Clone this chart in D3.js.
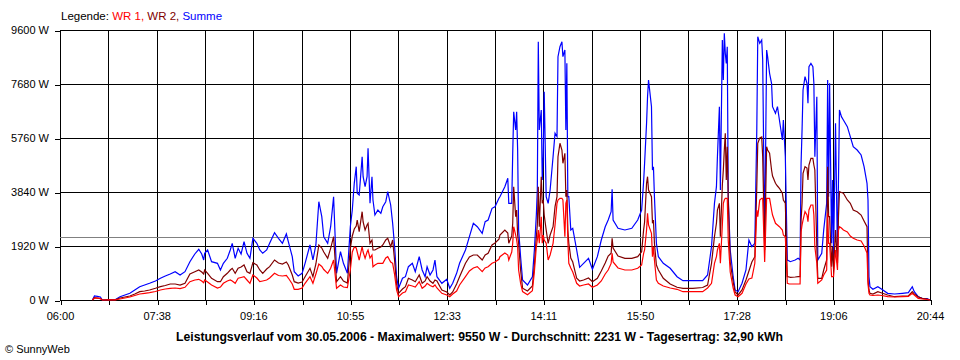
<!DOCTYPE html>
<html>
<head>
<meta charset="utf-8">
<script src="https://cdn.jsdelivr.net/npm/d3@7"></script>
<style>
  html, body { margin: 0; padding: 0; background: #fff; }
  svg { display: block; }
  text { font-family: "Liberation Sans", Arial, sans-serif; font-size: 11px; fill: #000; }
</style>
</head>
<body>
<div id="chart"></div>
<script>
// ---- Data (time in minutes since midnight, power in W) ----
const times = [393,395,398,401,403,409,416,421,426,431,436,441,446,451,457,462,467,472,477,482,487,492,497,501,504,506,507,510,514,520,523,526,530,533,535,538,541,544,547,550,553,556,560,563,566,570,573,578,582,586,590,592,596,598,602,606,609,614,617,620,623,626,628,632,635,638,641,645,648,652,655,657,659,661,662,664,667,668,670,672,673,675,677,678,680,683,686,688,691,693,696,698,700,702,704,708,711,714,718,721,725,728,731,733,736,739,741,743,748,753,756,759,763,766,772,776,780,784,789,792,795,799,802,806,807,812,815,816,819,820,821,823,824,825,826,828,830,835,840,842,844,845,846,847,849,850,851,852,854,856,858,861,863,865,866,868,870,871,873,874,875,876,877,879,881,885,888,892,897,901,906,910,914,917,920,921,922,927,934,941,947,951,953,954,956,957,958,961,962,963,964,966,968,973,980,987,993,1003,1013,1018,1022,1025,1027,1028,1030,1031,1033,1034,1035,1036,1037,1038,1039,1041,1044,1046,1049,1053,1057,1060,1063,1066,1068,1069,1071,1073,1074,1076,1078,1079,1081,1083,1084,1087,1089,1091,1094,1095,1097,1099,1101,1102,1107,1110,1112,1113,1114,1115,1117,1119,1120,1121,1123,1125,1126,1127,1129,1130,1134,1136,1139,1140,1141,1142,1144,1145,1146,1148,1150,1151,1152,1154,1156,1160,1163,1166,1170,1174,1177,1180,1181,1182,1183,1186,1191,1195,1201,1208,1216,1222,1226,1228,1232,1236,1241,1244];

const summe = [0,142,130,107,0,10,10,117,178,238,356,473,533,594,676,772,853,924,1006,889,1006,1362,1636,1803,1636,1422,1661,1778,1362,1305,1067,1305,1483,1778,2016,1483,1838,1636,2073,1661,1483,2194,2016,1778,1661,1778,2016,2393,2194,2016,2347,2073,1540,1006,853,949,1305,1956,1422,1956,3495,2962,2251,2016,2606,3673,949,1717,1305,949,2606,3200,4149,4740,3794,3733,5095,4384,4029,4384,5394,3438,4384,3556,3022,3200,3083,3317,3495,3851,3378,2727,1895,828,416,772,828,1184,1305,1006,1540,1067,828,1184,889,1067,1422,828,594,736,416,594,949,1305,1778,2251,2727,2606,2372,2784,2844,3260,3317,3616,3673,4029,4327,3438,3438,5216,6695,6044,6695,5333,2489,1540,711,533,828,1778,3022,3911,9185,6044,6756,4267,5095,7407,3673,3438,3911,5095,5927,5807,8651,9007,9185,8651,8889,6044,8415,3673,3673,2489,2549,1778,1162,1305,1483,1092,1540,2133,2606,2844,3140,3936,2844,2549,2489,2549,2844,3200,4206,4860,6283,7229,7822,6873,4622,4740,3673,2016,1540,1305,1127,828,686,686,686,889,1895,3438,4029,5095,6873,3911,9244,7822,9483,8771,8415,9007,3673,1778,828,356,295,594,1067,2133,1895,2016,6044,9363,9126,9244,8533,2016,8889,8651,8060,7704,6873,6638,6873,6400,5689,6400,5095,1422,1387,1362,1422,1483,1422,4860,6044,7467,7941,7704,6994,8296,8415,8296,7704,5095,7229,1422,1661,2489,3438,7822,3673,7704,2016,4267,1540,6283,1540,4267,6756,6518,6400,6162,5807,5451,5333,5156,4740,4149,3556,828,473,380,473,380,238,213,238,260,473,295,117,60,46,0];

const wr2 = [0,80,70,50,0,5,5,71,107,142,213,295,320,356,416,473,516,569,569,533,594,924,1006,1067,996,924,1067,949,772,651,651,828,949,1067,1127,949,1127,1173,1244,1006,949,1326,1244,1067,949,1102,1184,1422,1316,1280,1351,1244,889,651,604,640,828,1127,828,1280,1956,1849,1707,1483,1838,2251,651,828,676,604,1838,2276,2524,2631,2844,2429,3140,2773,2489,2667,2727,2016,2133,1778,1778,1838,1884,1956,2133,2194,1895,2133,1400,560,238,391,473,772,711,651,889,594,676,828,676,594,711,676,356,284,178,284,569,828,1305,1529,1600,1600,1422,1600,1661,1956,2027,2158,2311,2489,2382,2016,2276,2727,4029,2962,3200,2311,2016,1067,420,320,500,1244,2251,2667,4029,2606,4384,3438,3556,3022,2489,2016,2311,2606,3317,3673,5095,5572,5333,4860,5216,3673,3911,2489,2016,1493,1351,772,676,711,782,651,772,1031,1316,1564,1661,2194,1849,1564,1483,1483,1540,1717,2489,2773,4149,4384,3911,3673,2727,2844,2016,1244,1067,772,569,452,416,416,444,533,1305,2251,2727,3200,3438,2251,4089,4622,5333,5927,4267,5451,3556,1351,640,284,178,356,711,1031,1351,1540,4029,5572,5760,5796,5095,1778,5451,5333,5216,4622,4409,4149,4053,3972,3794,3556,3438,828,818,807,818,828,828,2844,3438,4505,4740,4693,4267,4800,5038,5038,4800,4622,1895,772,772,1067,1422,4740,2962,2962,1184,1895,1067,2489,1305,2962,3851,3822,3794,3556,3438,3200,3140,3022,2809,2606,711,356,238,213,295,249,178,117,142,142,295,213,117,60,36,0];

const wr1 = [0,70,70,50,0,5,5,36,71,107,160,213,238,260,302,356,391,416,427,402,452,651,711,736,676,615,711,640,533,427,462,594,676,711,676,594,772,800,828,711,594,889,782,651,676,711,782,949,871,853,871,782,569,380,380,427,594,828,594,924,1280,1191,1084,949,1127,1422,416,533,462,444,1067,1707,1884,1849,1707,1422,1895,1707,1483,1707,1778,1493,1600,1184,1244,1305,1305,1305,1493,1540,1351,1305,900,360,117,249,295,533,498,462,651,416,498,594,516,473,533,427,238,178,117,213,320,533,828,1031,1138,1184,1006,1138,1184,1305,1351,1447,1540,1671,1600,1422,1707,2016,2606,2311,2133,1895,1067,604,300,190,330,1000,1900,2133,2489,2016,2962,2016,2311,2133,2016,1422,1600,2016,2667,3438,3556,3616,3616,3556,2251,3438,3556,2133,1305,1138,996,594,498,533,569,452,533,676,924,1067,1300,1661,1351,1138,1067,1067,1127,1244,1661,1778,2489,3083,2667,2372,1540,1895,1422,711,594,498,427,380,295,295,295,427,594,1305,1540,1778,2016,1305,2667,3438,3556,3616,3616,3616,2133,996,427,178,117,238,569,747,782,1305,3200,2962,3556,3616,3616,1351,3616,3616,3616,3200,3022,2727,2667,2606,2489,2311,2251,594,569,569,569,569,569,2418,2667,2844,3140,3022,2784,3200,3378,3378,3022,1895,1305,594,711,889,1067,3083,2016,2016,828,828,828,1778,1067,2489,2606,2560,2489,2418,2276,2194,2133,2098,1920,1671,569,238,178,160,178,160,117,107,117,124,238,178,60,36,18,0];

const gridTimes = d3.range(19).map(i => 360 + i * 884 / 18);
const xTickLabels = ["06:00","07:38","09:16","10:55","12:33","14:11","15:50","17:28","19:06","20:44"];
const yTicks = [0, 1920, 3840, 5760, 7680, 9600];
const average = 2231;
const seriesNames = ["WR 1", "WR 2", "Summe"];
const titleText = "Leistungsverlauf vom 30.05.2006 - Maximalwert: 9550 W - Durchschnitt: 2231 W - Tagesertrag: 32,90 kWh";

// ---- Chart ----
(function () {
const W = 960, H = 360;
const pLeft = 60, pRight = 930, pTop = 30, pBottom = 300;

const svg = d3.select("#chart").append("svg").attr("width", W).attr("height", H);

const x = d3.scaleLinear().domain([360, 1244]).range([pLeft, pRight]);
const y = d3.scaleLinear().domain([0, 9600]).range([pBottom, pTop]);

// grid
const grid = svg.append("g").attr("shape-rendering", "crispEdges").attr("stroke", "#000").attr("stroke-width", 1);
grid.selectAll("line.v").data(gridTimes).join("line").attr("class", "v")
  .attr("x1", d => Math.round(x(d)) + 0.5).attr("x2", d => Math.round(x(d)) + 0.5)
  .attr("y1", y(9600)).attr("y2", y(0));
grid.selectAll("line.h").data(yTicks).join("line").attr("class", "h")
  .attr("x1", pLeft).attr("x2", pRight + 1)
  .attr("y1", d => Math.round(y(d)) + 0.5).attr("y2", d => Math.round(y(d)) + 0.5);

// axes
const xAxis = d3.axisBottom(x).tickValues(gridTimes).tickSize(5).tickSizeOuter(0).tickPadding(7)
  .tickFormat((d, i) => i % 2 === 0 ? xTickLabels[i / 2] : "");
const gx = svg.append("g").attr("transform", `translate(0,${pBottom})`).call(xAxis);
gx.select(".domain").remove();
gx.selectAll(".tick line").attr("stroke", "#000").attr("shape-rendering", "crispEdges")
  .attr("transform", d => `translate(${Math.round(x(d)) + 0.5 - x(d)},0)`);
gx.selectAll("text").style("font-family", '"Liberation Sans", Arial, sans-serif').style("font-size", "11px").attr("fill", "#000");

const yAxis = d3.axisLeft(y).tickValues(yTicks).tickSize(5).tickSizeOuter(0).tickPadding(6)
  .tickFormat(d => d + " W");
const gy = svg.append("g").attr("transform", `translate(${pLeft},0)`).call(yAxis);
gy.select(".domain").remove();
gy.selectAll(".tick line").attr("stroke", "#000").attr("shape-rendering", "crispEdges")
  .attr("transform", d => `translate(0,${Math.round(y(d)) + 0.5 - y(d)})`);
gy.selectAll("text").style("font-family", '"Liberation Sans", Arial, sans-serif').style("font-size", "11px").attr("fill", "#000");

// average line
svg.append("line")
  .attr("x1", pLeft).attr("x2", pRight)
  .attr("y1", Math.round(y(average)) + 0.5).attr("y2", Math.round(y(average)) + 0.5)
  .attr("stroke", "#808080").attr("stroke-width", 1).attr("shape-rendering", "crispEdges");

// series
const series = [
  { name: seriesNames[2], values: summe, color: "#0000ff" },
  { name: seriesNames[1], values: wr2, color: "#800000" },
  { name: seriesNames[0], values: wr1, color: "#ff0000" }
];
const line = d3.line().x(d => x(d[0])).y(d => y(d[1]));
series.forEach(s => {
  svg.append("path")
    .datum(times.map((t, i) => [t, s.values[i]]))
    .attr("d", line)
    .attr("fill", "none")
    .attr("stroke", s.color)
    .attr("stroke-width", 1.2)
    .attr("stroke-linejoin", "miter");
});

// legend
const leg = svg.append("text").attr("x", 61).attr("y", 20).style("font-size", "11.5px");
leg.append("tspan").text("Legende: ").attr("fill", "#000");
leg.append("tspan").text(seriesNames[0] + ", ").attr("fill", "#ff0000");
leg.append("tspan").text(seriesNames[1] + ", ").attr("fill", "#800000");
leg.append("tspan").text(seriesNames[2]).attr("fill", "#0000ff");

// title
svg.append("text").attr("x", 176).attr("y", 341)
  .style("font-weight", "bold").style("font-size", "12px")
  .attr("textLength", 607).attr("lengthAdjust", "spacingAndGlyphs")
  .text(titleText);

// copyright
svg.append("text").attr("x", 5).attr("y", 353).text("\u00A9 SunnyWeb");
})();
</script>
</body>
</html>
